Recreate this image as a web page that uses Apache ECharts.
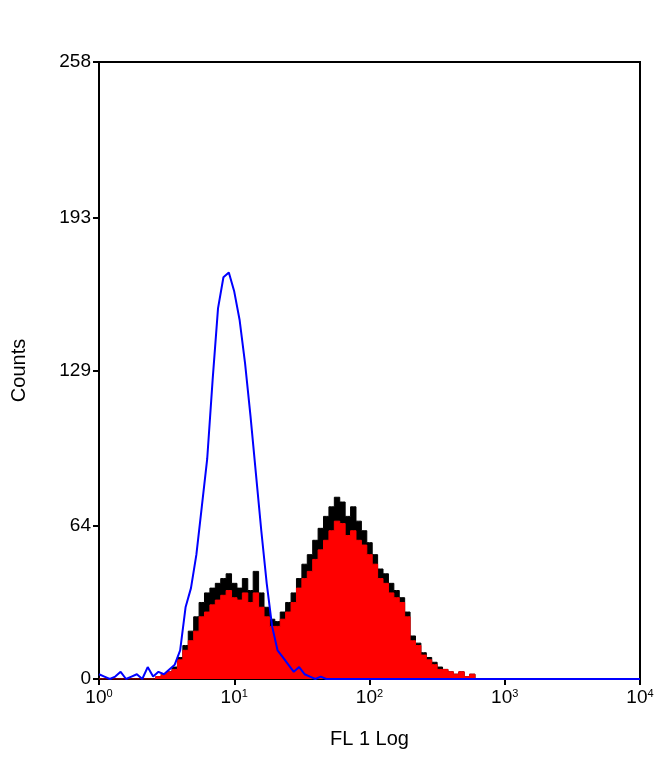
<!DOCTYPE html>
<html>
<head>
<meta charset="utf-8">
<script src="https://cdn.jsdelivr.net/npm/echarts@6/dist/echarts.min.js"></script>
<style>html,body{margin:0;padding:0;background:#fff}#chart{width:660px;height:764px}</style>
</head>
<body>
<div id="chart"></div>
<script>
// channel positions in decades (log10 of FL1), step 0.04
var decades = [];
for (var k = 0; k <= 100; k++) decades.push(+(k * 0.04).toFixed(2));

var isotype = [2,1,0,1,3,0,1,2,0,5,1,3,2,4,6,12,30,38,52,72,92,125,155,168,170,162,150,132,110,86,62,40,22,12,9,6,3,5,2,1,
  0,1,0,0,0,0,0,0,0,0,0,0,0,0,0,0,0,0,0,0,0,0,0,0,0,0,0,0,0,0,0,0,0,0,0,0,0,0,0,0,0,0,0,0,0,0,0,0,0,0,0,0,0,0,0,0,0,0,0,0,0];

var stained = [0,0,0,0,0,0,0,0,0,0,0,1,2,3,4,8,12,16,20,26,28,31,33,35,37,34,33,36,32,36,30,26,22,22,25,28,32,38,42,45,
  50,54,58,62,66,65,60,62,58,56,52,48,42,40,36,34,32,26,16,14,10,8,6,4,4,3,2,3,1,2,0,0,0,0,0,0,0,0,0,0,0,0,0,0,0,0,0,0,0,0,0,0,0,0,0,0,0,0,0,0,0];

var outline = [0,0,0,0,0,0,0,0,0,0,0,1,2,3,5,9,14,20,26,32,36,38,40,42,44,40,38,42,37,45,36,30,25,24,28,32,36,42,48,52,
  58,63,68,72,76,74,68,72,66,62,57,52,46,44,40,37,34,28,18,15,11,9,7,5,4,3,2,3,1,2,0,0,0,0,0,0,0,0,0,0,0,0,0,0,0,0,0,0,0,0,0,0,0,0,0,0,0,0,0,0,0];

var yTicks = [0, 64, 129, 193, 258];

function pairs(v) { return v.map(function (y, i) { return [decades[i], y]; }); }

var chart = echarts.init(document.getElementById('chart'));
var font = 'Liberation Sans';
chart.setOption({
  animation: false,
  grid: { left: 99, right: 20, top: 62, bottom: 85, show: true, borderColor: '#000', borderWidth: 2 },
  xAxis: {
    type: 'value', min: 0, max: 4, interval: 1,
    name: 'FL 1 Log', nameLocation: 'middle', nameGap: 50,
    nameTextStyle: { color: '#000', fontFamily: font, fontSize: 20 },
    axisLine: { lineStyle: { color: '#000', width: 2 } },
    axisTick: { inside: false, length: 6, lineStyle: { color: '#000', width: 2 } },
    splitLine: { show: false },
    axisLabel: {
      margin: 9,
      formatter: function (v) { return '{b|10}{s|' + v + '}'; },
      rich: {
        b: { color: '#000', fontFamily: font, fontSize: 19 },
        s: { color: '#000', fontFamily: font, fontSize: 11, verticalAlign: 'top', padding: [0, 0, 8, 0] }
      }
    }
  },
  yAxis: {
    type: 'value', min: 0, max: 258,
    name: 'Counts', nameLocation: 'middle', nameGap: 70,
    nameTextStyle: { color: '#000', fontFamily: font, fontSize: 20 },
    axisLine: { lineStyle: { color: '#000', width: 2 } },
    axisTick: { length: 6, lineStyle: { color: '#000', width: 2 }, customValues: yTicks },
    axisLabel: { color: '#000', fontFamily: font, fontSize: 19, customValues: yTicks },
    splitLine: { show: false }
  },
  series: [
    { type: 'line', data: pairs(outline), step: 'middle', symbol: 'none',
      lineStyle: { color: '#000', width: 1 }, areaStyle: { color: '#000', opacity: 1 }, z: 2 },
    { type: 'line', data: pairs(stained), step: 'middle', symbol: 'none',
      lineStyle: { color: '#ff0000', width: 1 }, areaStyle: { color: '#ff0000', opacity: 1 }, z: 3 },
    { type: 'line', data: pairs(isotype), symbol: 'none',
      lineStyle: { color: '#0000ff', width: 2 }, z: 4 }
  ]
});
</script>
</body>
</html>
